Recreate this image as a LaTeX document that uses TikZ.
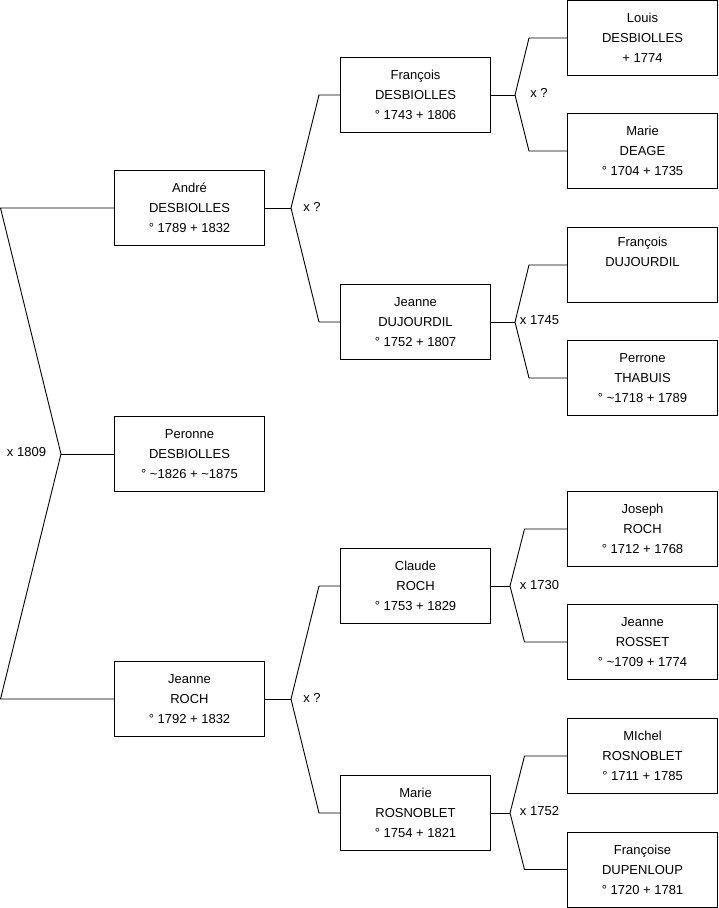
\documentclass[tikz,border=0pt]{standalone}
\usepackage{fontspec}
\setmainfont{Liberation Sans}
\begin{document}
\begin{tikzpicture}[x=1pt,y=-1pt,
  person/.style={draw=black, line width=1pt, minimum width=150pt, minimum height=75pt, align=center, inner sep=0pt, font=\fontsize{13}{20}\selectfont},
  link/.style={draw=black, line width=0.9pt},
  lab/.style={font=\fontsize{13}{15}\selectfont, inner sep=0pt}]
\useasboundingbox (0,0) rectangle (719,908);
% generation 1
\node[person] (andre) at (189.5,208) {André\\DESBIOLLES\\° 1789 + 1832};
\node[person] (peronne) at (189.5,454) {Peronne\\DESBIOLLES\\° \textasciitilde1826 + \textasciitilde1875};
\node[person] (jroch) at (189.5,699) {Jeanne\\ROCH\\° 1792 + 1832};
% generation 2
\node[person] (francois) at (415.5,95) {François\\DESBIOLLES\\° 1743 + 1806};
\node[person] (jeanned) at (415.5,322) {Jeanne\\DUJOURDIL\\° 1752 + 1807};
\node[person] (claude) at (415.5,586) {Claude\\ROCH\\° 1753 + 1829};
\node[person] (marier) at (415.5,813) {Marie\\ROSNOBLET\\° 1754 + 1821};
% generation 3
\node[person] (louis) at (642.5,38) {Louis\\DESBIOLLES\\+ 1774};
\node[person] (maried) at (642.5,151) {Marie\\DEAGE\\° 1704 + 1735};
\node[person] (francoisd) at (642.5,265) {François\\DUJOURDIL\\\strut};
\node[person] (perrone) at (642.5,378) {Perrone\\THABUIS\\° \textasciitilde1718 + 1789};
\node[person] (joseph) at (642.5,529) {Joseph\\ROCH\\° 1712 + 1768};
\node[person] (jrosset) at (642.5,642) {Jeanne\\ROSSET\\° \textasciitilde1709 + 1774};
\node[person] (michel) at (642.5,756) {MIchel\\ROSNOBLET\\° 1711 + 1785};
\node[person] (francoise) at (642.5,869.5) {Françoise\\DUPENLOUP\\° 1720 + 1781};
% left bracket
\coordinate (cLa) at (0.5,208);
\coordinate (cLb) at (0.5,699);
\coordinate (jL) at (61,454);
\draw[link] (andre.west) -- (cLa) -- (jL) -- (cLb) -- (jroch.west);
\draw[link] (jL) -- (peronne.west);
\node[lab] (m0) at (26.5,452) {x 1809};
% andre's parents
\coordinate (j1) at (291,208);
\coordinate (c1a) at (319,95);
\coordinate (c1b) at (319,322);
\draw[link] (andre.east) -- (j1);
\draw[link] (francois.west) -- (c1a) -- (j1) -- (c1b) -- (jeanned.west);
\node[lab] (m1) at (312,207) {x ?};
% jeanne roch's parents
\coordinate (j2) at (291,699);
\coordinate (c2a) at (319,586);
\coordinate (c2b) at (319,813);
\draw[link] (jroch.east) -- (j2);
\draw[link] (claude.west) -- (c2a) -- (j2) -- (c2b) -- (marier.west);
\node[lab] (m2) at (312,698) {x ?};
% francois's parents
\coordinate (j3) at (515,95);
\coordinate (c3a) at (529,38);
\coordinate (c3b) at (529,151);
\draw[link] (francois.east) -- (j3);
\draw[link] (louis.west) -- (c3a) -- (j3) -- (c3b) -- (maried.west);
\node[lab] (m3) at (539,93) {x ?};
% jeanne dujourdil's parents
\coordinate (j4) at (515,322);
\coordinate (c4a) at (529,265);
\coordinate (c4b) at (529,378);
\draw[link] (jeanned.east) -- (j4);
\draw[link] (francoisd.west) -- (c4a) -- (j4) -- (c4b) -- (perrone.west);
\node[lab] (m4) at (539.5,320) {x 1745};
% claude's parents
\coordinate (j5) at (510,586);
\coordinate (c5a) at (524.5,529);
\coordinate (c5b) at (524.5,642);
\draw[link] (claude.east) -- (j5);
\draw[link] (joseph.west) -- (c5a) -- (j5) -- (c5b) -- (jrosset.west);
\node[lab] (m5) at (539.5,585) {x 1730};
% marie rosnoblet's parents
\coordinate (j6) at (510,813);
\coordinate (c6a) at (524.5,756);
\coordinate (c6b) at (524.5,869.5);
\draw[link] (marier.east) -- (j6);
\draw[link] (michel.west) -- (c6a) -- (j6) -- (c6b) -- (francoise.west);
\node[lab] (m6) at (539.5,811) {x 1752};
\end{tikzpicture}
\end{document}
